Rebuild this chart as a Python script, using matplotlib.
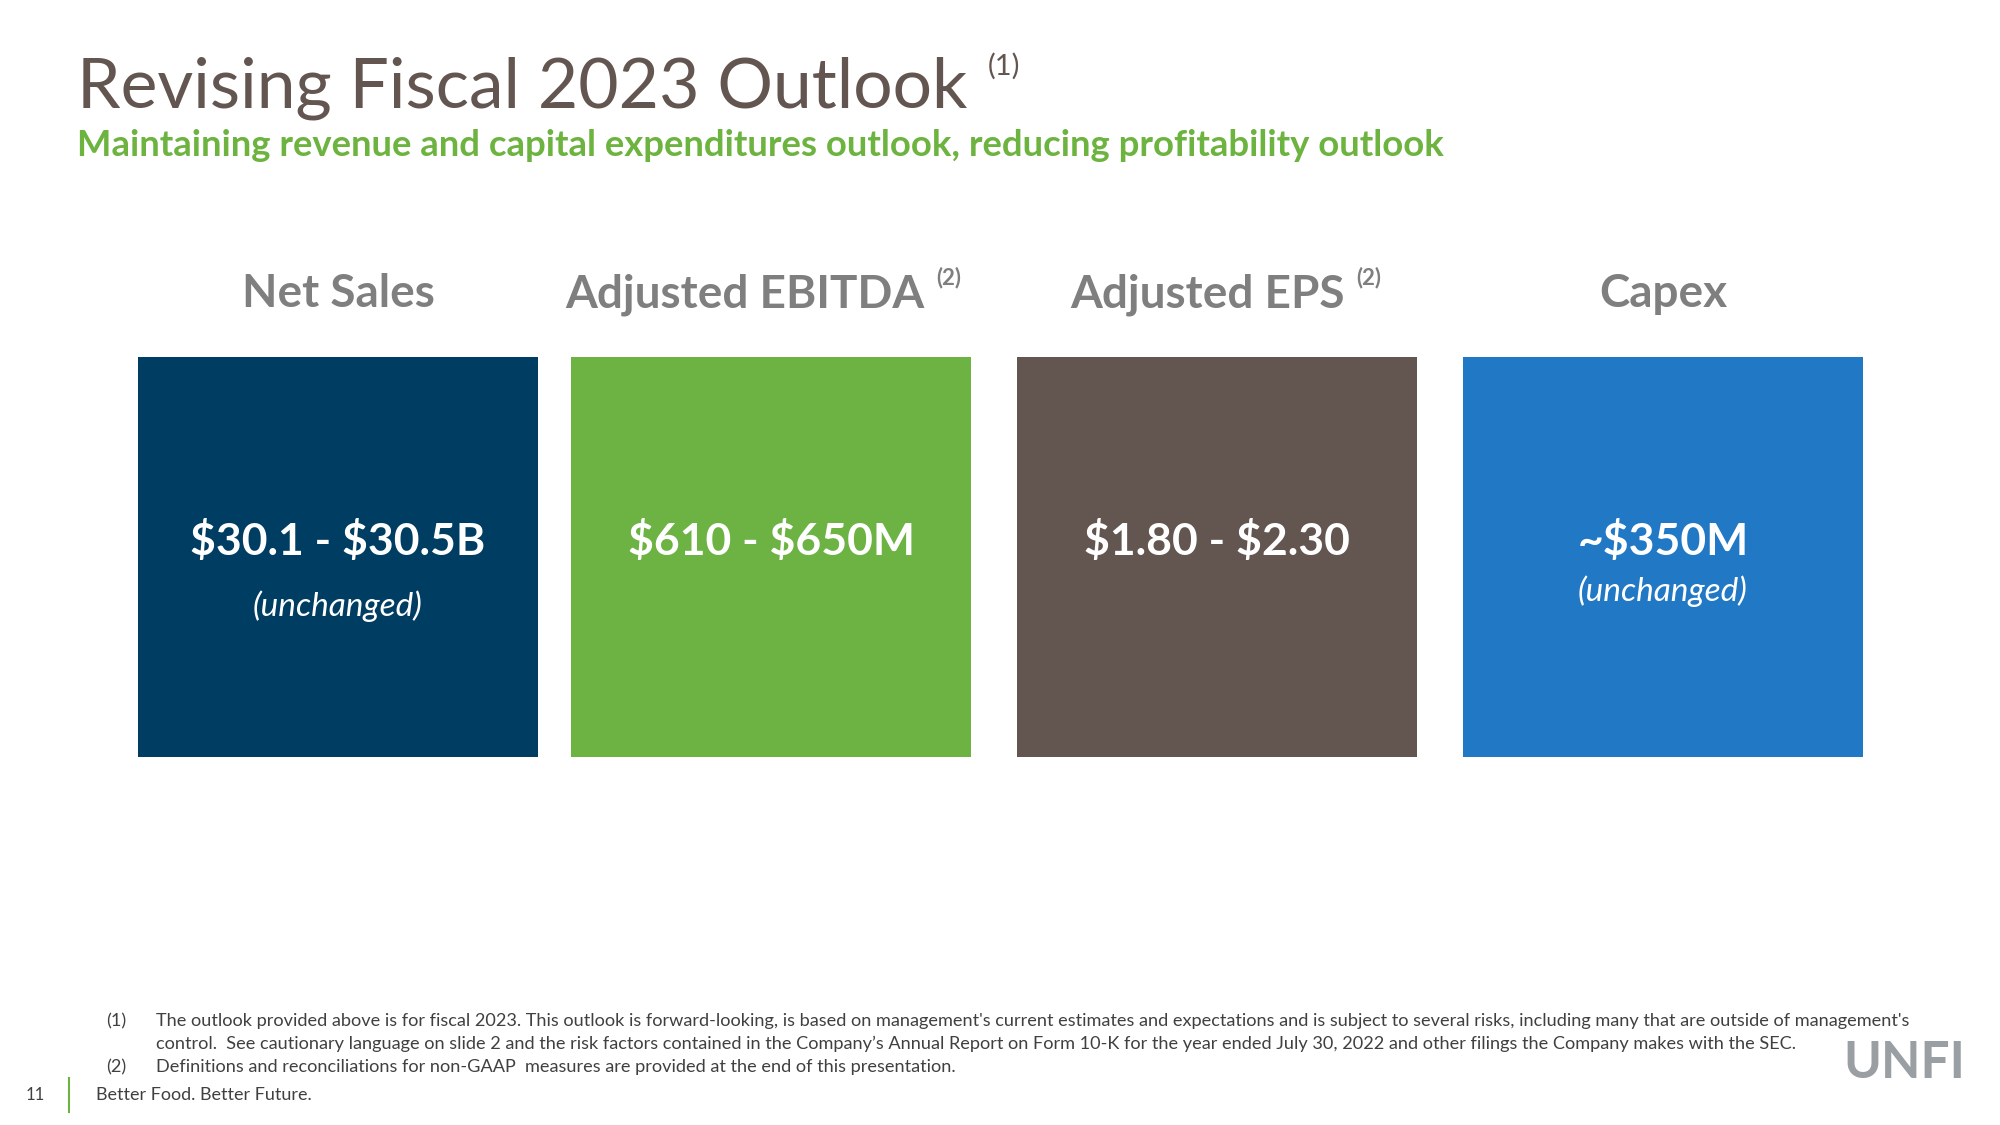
import matplotlib.pyplot as plt

plt.rcParams['font.family'] = ['Lato', 'DejaVu Sans']

title = "Revising Fiscal 2023 Outlook"
subtitle = "Maintaining revenue and capital expenditures outlook, reducing profitability outlook"
metrics = ["Net Sales", "Adjusted EBITDA", "Adjusted EPS", "Capex"]
metric_notes = ["", "(2)", "(2)", ""]
ranges = ["$30.1 - $30.5B", "$610 - $650M", "$1.80 - $2.30", "~$350M"]
status = ["(unchanged)", "", "", "(unchanged)"]
box_colors = ["#003d63", "#6db344", "#635550", "#2178c4"]
footnotes = [
    ("(1)", "The outlook provided above is for fiscal 2023. This outlook is forward-looking, is based on management's current estimates and expectations and is subject to several risks, including many that are outside of management's"),
    ("", "control.  See cautionary language on slide 2 and the risk factors contained in the Company\u2019s Annual Report on Form 10-K for the year ended July 30, 2022 and other filings the Company makes with the SEC."),
    ("(2)", "Definitions and reconciliations for non-GAAP  measures are provided at the end of this presentation."),
]
page = "11"
tagline = "Better Food. Better Future."

fig = plt.figure(figsize=(20, 11.25), dpi=100)
ax = fig.add_axes([0, 0, 1, 1])
ax.set_xlim(0, 2000)
ax.set_ylim(1125, 0)
ax.axis('off')
r = fig.canvas.get_renderer()


def fit(t, width):
    # scale font so the text spans the given pixel width
    w = t.get_window_extent(r).width
    t.set_fontsize(t.get_fontsize() * width / w)


def right_of(t):
    return t.get_window_extent(r).x1


# title
t = ax.text(77, 108, title, fontsize=52, color="#635550", va='baseline')
fit(t, 890)
ax.text(right_of(t) + 20, 75, "(1)", fontsize=21, color="#635550", va='baseline')
s = ax.text(77, 156, subtitle, fontsize=22, color="#6db33f", fontweight='bold', va='baseline')
fit(s, 1366)

# boxes
centers = [338, 771, 1217, 1663]
ax.bar(centers, [400] * 4, width=400, bottom=357, color=box_colors)

head_shift = [0, -26, -10, 0]
val_size = None
for i, name in enumerate(metrics):
    h = ax.text(centers[i] + head_shift[i], 307, name, fontsize=33, color="#7f7f7f",
                fontweight='bold', ha='center', va='baseline')
    if metric_notes[i]:
        ax.text(right_of(h) + 12, 284, metric_notes[i], fontsize=16, color="#7f7f7f",
                fontweight='bold', va='baseline')
    v = ax.text(centers[i], 541, ranges[i], fontsize=31, color="white", fontweight='bold',
                ha='center', va='center', parse_math=False)
    if val_size is None:
        fit(v, 295)
        val_size = v.get_fontsize()
    v.set_fontsize(val_size)
    if status[i]:
        sy = 591 if i == 3 else 606
        ax.text(centers[i], sy, status[i], fontsize=24, color="white", style='italic',
                ha='center', va='center')

# footnotes
fy = [1021, 1044, 1067]
fsize = 12
for (num, txt), y in zip(footnotes, fy):
    n = ax.text(106, y, num, fontsize=fsize, color="#404040", va='center')
    f = ax.text(156, y, txt, fontsize=fsize, color="#404040", va='center')
    if num == "(1)":
        fit(f, 1750)
        fsize = f.get_fontsize()
        n.set_fontsize(fsize)

# footer
ax.text(26, 1095, page, fontsize=12, color="#404040", va='center')
ax.plot([69, 69], [1078, 1112], color="#6db33f", lw=1.5)
ax.text(96, 1095, tagline, fontsize=13, color="#404040", va='center')

# logo
lg = ax.text(1843, 1063, "UNFI", fontsize=34, color="#9a9fa3", fontweight='bold', va='center')
fit(lg, 122)

fig.savefig("out.png", dpi=100)
